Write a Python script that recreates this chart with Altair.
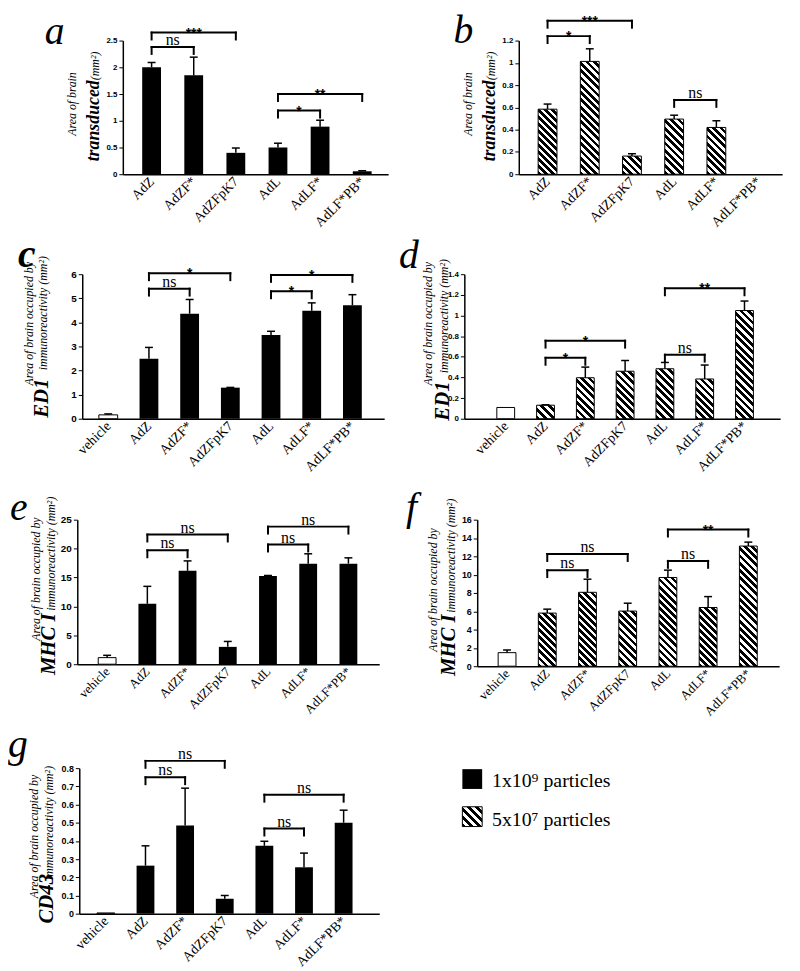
import json
import math
import altair as alt

# ---------------------------------------------------------------- data
GROUPS = ["AdZ", "AdZF*", "AdZFpK7", "AdL", "AdLF*", "AdLF*PB*"]
GROUPS_V = ["vehicle"] + GROUPS

# a: area transduced, 1x10^9 particles
a_mean = [2.00, 1.85, 0.40, 0.50, 0.89, 0.055]
a_sem = [0.09, 0.34, 0.09, 0.08, 0.12, 0.01]
a_brackets = [(0, 2, 2.65, "***"), (0, 1, 2.38, "ns"), (3, 5, 1.50, "**"), (3, 4, 1.19, "*")]

# b: area transduced, 5x10^7 particles
b_mean = [0.584, 1.013, 0.163, 0.495, 0.42, 0.0]
b_sem = [0.046, 0.113, 0.021, 0.035, 0.06, 0.0]
b_brackets = [(0, 2, 1.378, "***"), (0, 1, 1.24, "*"), (3, 4, 0.667, "ns")]

# c: ED1, 1x10^9
c_mean = [0.16, 2.49, 4.36, 1.29, 3.48, 4.48, 4.71]
c_sem = [0.04, 0.47, 0.59, 0.01, 0.15, 0.33, 0.44]
c_brackets = [(1, 3, 6.04, "*"), (1, 2, 5.40, "ns"), (4, 6, 5.97, "*"), (4, 5, 5.29, "*")]

# d: ED1, 5x10^7
d_mean = [0.109, 0.131, 0.397, 0.46, 0.484, 0.385, 1.048]
d_sem = [0.0, 0.004, 0.103, 0.104, 0.061, 0.135, 0.092]
d_brackets = [(1, 3, 0.756, "*"), (1, 2, 0.59, "*"), (4, 6, 1.263, "**"), (4, 5, 0.62, "ns")]

# e: MHC I, 1x10^9
e_mean = [1.14, 10.45, 16.15, 3.0, 15.24, 17.4, 17.4]
e_sem = [0.4, 3.02, 1.72, 0.94, 0.11, 1.7, 1.0]
e_brackets = [(1, 3, 22.43, "ns"), (1, 2, 19.7, "ns"), (4, 6, 23.8, "ns"), (4, 5, 20.7, "ns")]

# f: MHC I, 5x10^7
f_mean = [1.48, 5.8, 8.07, 6.02, 9.69, 6.41, 13.12]
f_sem = [0.29, 0.43, 1.43, 0.86, 0.8, 1.19, 0.43]
f_brackets = [(1, 3, 12.25, "ns"), (1, 2, 10.49, "ns"), (4, 6, 14.92, "**"), (4, 5, 11.5, "ns")]

# g: CD43, 1x10^9
g_mean = [0.004, 0.264, 0.485, 0.082, 0.373, 0.255, 0.50]
g_sem = [0.0, 0.109, 0.205, 0.018, 0.025, 0.078, 0.069]
g_brackets = [(1, 3, 0.84, "ns"), (1, 2, 0.75, "ns"), (4, 6, 0.654, "ns"), (4, 5, 0.468, "ns")]

a_ticks = [0, 0.5, 1, 1.5, 2, 2.5]
b_ticks = [0, 0.2, 0.4, 0.6, 0.8, 1, 1.2]
c_ticks = [0, 1, 2, 3, 4, 5, 6]
d_ticks = [0, 0.2, 0.4, 0.6, 0.8, 1, 1.2, 1.4]
e_ticks = [0, 5, 10, 15, 20, 25]
f_ticks = [0, 2, 4, 6, 8, 10, 12, 14, 16]
g_ticks = [0, 0.1, 0.2, 0.3, 0.4, 0.5, 0.6, 0.7, 0.8]

LEGEND = ["1x10\u2079 particles", "5x10\u2077 particles"]

# ---------------------------------------------------------------- layout / style
W, H = 792, 963
OX, OY = 8, 8
SERIF = "Liberation Serif"
SANS = "Liberation Sans"


def hatch(w, h, period=5.2):
    """Diagonal '\\' stripes as a bbox-relative linear gradient."""
    t = (w + h) / (w * w + h * h)
    n = max(1, round((w + h) / math.sqrt(2) / period))
    stops = []
    for i in range(n):
        a0, a1, a2 = i / n, (i + 0.52) / n, (i + 1) / n
        stops += [
            {"offset": a0, "color": "black"},
            {"offset": a1, "color": "black"},
            {"offset": a1, "color": "white"},
            {"offset": a2, "color": "white"},
        ]
    return {"gradient": "linear", "x1": 0, "y1": 1, "x2": w * t, "y2": 1 - h * t, "stops": stops}


ONE = alt.Data(values=[{"k": 0}])


def text(s, x, y, size, angle=0, align="left", baseline="alphabetic",
         style="normal", weight="normal", font=SERIF):
    return alt.Chart(ONE).mark_text(
        text=s, fontSize=size, angle=angle, align=align, baseline=baseline,
        fontStyle=style, fontWeight=weight, font=font, color="black",
    ).encode(x=alt.value(x - OX), y=alt.value(y - OY))


def panel(cats, mean, sem, brackets, ticks, hatched, g):
    n = len(cats)
    ymax = ticks[-1]
    xa, xe, c0, step, y0, yt = g["xa"], g["xe"], g["c0"], g["step"], g["y0"], g["yt"]
    bw = g["bw"]
    plot_h = y0 - yt
    rows = []
    for i, (c, m, s) in enumerate(zip(cats, mean, sem)):
        kind = "white" if c == "vehicle" else ("hatch" if hatched else "black")
        rows.append({"idx": i, "cat": c, "val": m, "top": m + s, "err": s, "kind": kind})
    data = alt.Data(values=rows)

    xscale = alt.Scale(domain=[(xa - c0) / step, (xe - c0) / step],
                       range=[xa - OX, xe - OX], nice=False, zero=False)
    yscale = alt.Scale(domain=[0, ymax], range=[y0 - OY, yt - OY], nice=False, zero=False)
    xaxis = alt.Axis(
        orient="bottom", offset=(y0 - OY) - H, values=list(range(n)),
        labelExpr=json.dumps(cats) + "[datum.value]", labelAngle=-45,
        labelAlign="right", labelBaseline="middle", labelFont=SERIF,
        labelFontSize=g["lfs"], labelColor="black", labelPadding=5,
        labelOverlap=False, labelFlush=False, ticks=False, grid=False,
        domainColor="black", domainWidth=1.5, title=None,
    )
    yaxis = alt.Axis(
        orient="left", offset=-(xa - OX), values=ticks, format="~g",
        labelFont=SANS, labelFontWeight="bold", labelFontSize=g["tfs"],
        labelColor="black", labelPadding=2, tickSize=4, tickColor="black",
        tickWidth=1, domainColor="black", domainWidth=1.5, grid=False,
        labelFlush=False, labelOverlap=False, title=None,
    )

    def X(f):
        return alt.X(f, type="quantitative", scale=xscale, axis=xaxis)

    def Y(f):
        return alt.Y(f, type="quantitative", scale=yscale, axis=yaxis)

    base = alt.Chart(data)
    layers = [
        base.transform_filter(alt.datum.kind == "black")
        .mark_bar(size=bw, color="black", orient="vertical")
        .encode(x=X("idx"), y=Y("val")),
        base.transform_filter(alt.datum.kind == "white")
        .mark_bar(size=bw, fill="white", stroke="black", strokeWidth=1, orient="vertical")
        .encode(x=X("idx"), y=Y("val")),
    ]
    for r in rows:
        if r["kind"] == "hatch" and r["val"] > 0:
            h = r["val"] / ymax * plot_h
            layers.append(
                base.transform_filter(alt.datum.idx == r["idx"])
                .mark_bar(size=bw, fill=hatch(bw, h), stroke="black",
                          strokeWidth=1, orient="vertical")
                .encode(x=X("idx"), y=Y("val"))
            )
    err = base.transform_filter(alt.datum.err > 0)
    layers += [
        err.mark_rule(color="black", strokeWidth=1.5).encode(x=X("idx"), y=Y("val"), y2="top"),
        err.mark_rule(color="black", strokeWidth=1.5, xOffset=-4, x2Offset=4)
        .encode(x=X("idx"), x2="idx", y=Y("top")),
    ]
    brows = [{"i1": a, "i2": b, "lev": lv, "lab": lb, "star": lb.startswith("*")}
             for a, b, lv, lb in brackets]
    bbase = alt.Chart(alt.Data(values=brows))
    layers += [
        bbase.mark_rule(color="black", strokeWidth=2, strokeCap="square")
        .encode(x=X("i1"), x2="i2", y=Y("lev")),
        bbase.mark_rule(color="black", strokeWidth=2, strokeCap="square", y2Offset=7)
        .encode(x=X("i1"), y=Y("lev"), y2="lev"),
        bbase.mark_rule(color="black", strokeWidth=2, strokeCap="square", y2Offset=7)
        .encode(x=X("i2"), y=Y("lev"), y2="lev"),
        bbase.transform_filter(alt.datum.star)
        .transform_calculate(mid="(datum.i1 + datum.i2) / 2")
        .mark_text(font=SANS, fontWeight="bold", fontSize=14, dy=5, baseline="alphabetic", color="black")
        .encode(x=X("mid"), y=Y("lev"), text="lab:N"),
        bbase.transform_filter(~alt.datum.star)
        .transform_calculate(mid="(datum.i1 + datum.i2) / 2")
        .mark_text(font=SERIF, fontSize=16, dy=-2, baseline="alphabetic", color="black")
        .encode(x=X("mid"), y=Y("lev"), text="lab:N"),
    ]
    return alt.layer(*layers)


GEOM = {
    "a": dict(xa=124, xe=392, c0=149, step=44.2, y0=171, yt=36, bw=19, tfs=8, lfs=14),
    "b": dict(xa=524, xe=790, c0=549, step=44.3, y0=171, yt=36, bw=19, tfs=8, lfs=14),
    "c": dict(xa=83, xe=388, c0=105, step=42.5, y0=418, yt=272, bw=19, tfs=10, lfs=14),
    "d": dict(xa=469, xe=788, c0=507, step=41.5, y0=418, yt=272, bw=18, tfs=8, lfs=14),
    "e": dict(xa=78, xe=383, c0=104, step=42.0, y0=666, yt=520, bw=18, tfs=10, lfs=13),
    "f": dict(xa=482, xe=787, c0=508, step=42.0, y0=668, yt=520, bw=18, tfs=9, lfs=13),
    "g": dict(xa=80, xe=383, c0=102.6, step=41.4, y0=918, yt=771, bw=18, tfs=9, lfs=14),
}

panels = [
    panel(GROUPS, a_mean, a_sem, a_brackets, a_ticks, False, GEOM["a"]),
    panel(GROUPS, b_mean, b_sem, b_brackets, b_ticks, True, GEOM["b"]),
    panel(GROUPS_V, c_mean, c_sem, c_brackets, c_ticks, False, GEOM["c"]),
    panel(GROUPS_V, d_mean, d_sem, d_brackets, d_ticks, True, GEOM["d"]),
    panel(GROUPS_V, e_mean, e_sem, e_brackets, e_ticks, False, GEOM["e"]),
    panel(GROUPS_V, f_mean, f_sem, f_brackets, f_ticks, True, GEOM["f"]),
    panel(GROUPS_V, g_mean, g_sem, g_brackets, g_ticks, False, GEOM["g"]),
]

annotations = [
    # panel letters
    text("a", 45, 39, 40, style="italic"),
    text("b", 458, 38, 40, style="italic"),
    text("c", 18, 265, 40, style="italic", weight="bold"),
    text("d", 403, 266, 40, style="italic"),
    text("e", 10, 520, 40, style="italic"),
    text("f", 410, 520, 40, style="italic"),
    text("g", 8, 760, 40, style="italic"),
    # y titles a / b
    text("Area of brain", 77, 100, 12, angle=270, align="center", style="italic"),
    text("transduced", 100, 158, 18, angle=270, style="italic", weight="bold"),
    text("(mm\u00b2)", 100, 76, 12, angle=270, style="italic"),
    text("Area of brain", 477, 100, 12, angle=270, align="center", style="italic"),
    text("transduced", 500, 158, 18, angle=270, style="italic", weight="bold"),
    text("(mm\u00b2)", 500, 76, 12, angle=270, style="italic"),
    # c / d
    text("Area of brain occupied by", 33, 322, 12, angle=270, align="center", style="italic"),
    text("ED1", 48, 417, 21, angle=270, style="italic", weight="bold"),
    text("immunoreactivity (mm\u00b2)", 47, 369, 12, angle=270, style="italic"),
    text("Area of brain occupied by", 436, 322, 12, angle=270, align="center", style="italic"),
    text("ED1", 453, 420, 21, angle=270, style="italic", weight="bold"),
    text("immunoreactivity (mm\u00b2)", 452, 372, 12, angle=270, style="italic"),
    # e / f
    text("Area of brain occupied by", 40, 580, 12, angle=270, align="center", style="italic"),
    text("MHC I", 55, 677, 21, angle=270, style="italic", weight="bold"),
    text("immunoreactivity (mm\u00b2)", 55, 612, 12, angle=270, style="italic"),
    text("Area of brain occupied by", 441, 591, 12, angle=270, align="center", style="italic"),
    text("MHC I", 460, 678, 21, angle=270, style="italic", weight="bold"),
    text("immunoreactivity (mm\u00b2)", 460, 614, 12, angle=270, style="italic"),
    # g
    text("Area of brain occupied by", 38, 840, 12, angle=270, align="center", style="italic"),
    text("CD43", 53, 928, 21, angle=270, style="italic", weight="bold"),
    text("immunoreactivity (mm\u00b2)", 53, 884, 12, angle=270, style="italic"),
    # legend
    alt.Chart(ONE).mark_rect(color="black").encode(
        x=alt.value(467 - OX), x2=alt.value(487 - OX), y=alt.value(772 - OY), y2=alt.value(792 - OY)),
    alt.Chart(ONE).mark_rect(fill=hatch(20, 20), stroke="black", strokeWidth=1).encode(
        x=alt.value(467 - OX), x2=alt.value(487 - OX), y=alt.value(810 - OY), y2=alt.value(830 - OY)),
    text(LEGEND[0], 497, 790, 20),
    text(LEGEND[1], 497, 829, 20),
]

chart = (
    alt.layer(*panels, *annotations)
    .resolve_scale(x="independent", y="independent")
    .resolve_axis(x="independent", y="independent")
    .properties(width=W, height=H, autosize=alt.AutoSizeParams(type="none"), padding=0)
    .configure_view(stroke=None)
)

chart.save("out.html", embed_options={"renderer": "svg", "actions": False})
